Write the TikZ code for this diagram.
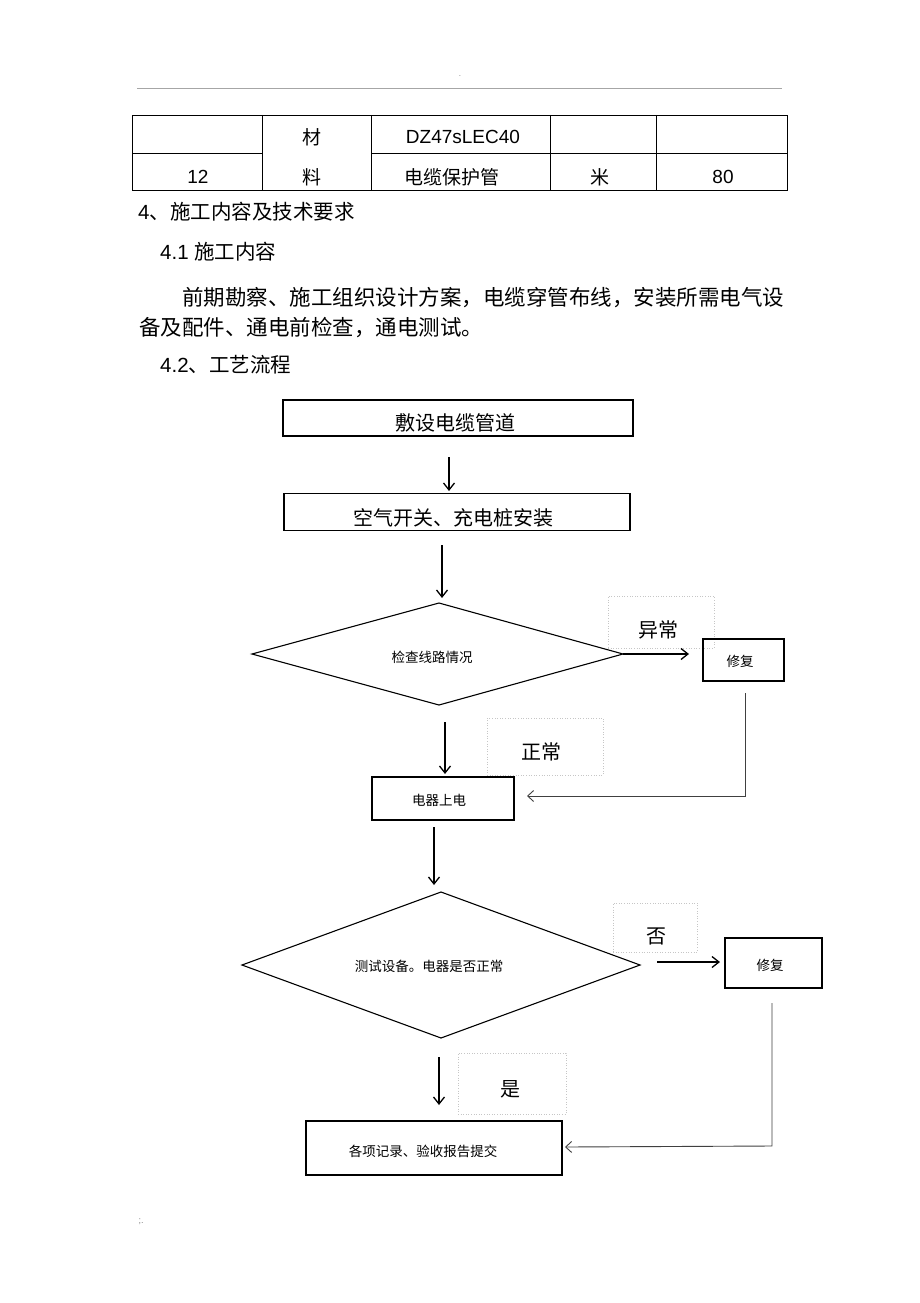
\documentclass[tikz,border=0pt]{standalone}
\usepackage{fontspec}
\setmainfont{Liberation Sans}
\newfontfamily\cjk{Noto Sans CJK SC}
\usetikzlibrary{arrows.meta}
\begin{document}
\begin{tikzpicture}[x=1pt,y=-1pt,
  box/.style={draw,line width=1.1pt,inner sep=0pt,anchor=center},
  lbl/.style={draw=gray!45,dotted,line width=0.6pt,inner sep=0pt,anchor=center},
  arr/.style={line width=1.3pt,-{Straight Barb[length=7pt,width=11pt]}},
  back/.style={line width=0.9pt,draw=black!75,-{Straight Barb[length=6pt,width=11pt]}},
  tline/.style={line width=0.9pt},
  tt/.style={inner sep=0pt,anchor=center,font=\fontsize{19}{22}\selectfont},
  big/.style={inner sep=0pt,font=\cjk\fontsize{20}{24}\selectfont},
  small/.style={inner sep=0pt,font=\cjk\fontsize{13.5}{16}\selectfont},
  para/.style={inner sep=0pt,anchor=west}
]
\useasboundingbox[fill=white] (0,0) rectangle (920,1303);

% header
\node[inner sep=0pt,text=gray,font=\fontsize{8}{8}\selectfont] (dot) at (460,76) {.};
\coordinate (hl) at (137,88);
\coordinate (hr) at (782,88);
\draw[gray!70,line width=0.8pt] (hl) -- (hr);

% table
\coordinate (t1) at (132,115);
\coordinate (t2) at (787,190);
\draw[tline] (t1) rectangle (t2);
\foreach \x in {262,371,550,656} \draw[tline] (\x,115) -- (\x,190);
\draw[tline] (132,153) -- (262,153);
\draw[tline] (371,153) -- (787,153);
\node[tt,font=\cjk\fontsize{19}{22}\selectfont] (c1) at (312,137) {材};
\node[tt,font=\cjk\fontsize{19}{22}\selectfont] (c2) at (312,177) {料};
\node[tt] (c3) at (463,137) {DZ47sLEC40};
\node[tt] (c4) at (198,177) {12};
\node[tt,font=\cjk\fontsize{19}{22}\selectfont] (c5) at (452,177) {电缆保护管};
\node[tt,font=\cjk\fontsize{19}{22}\selectfont] (c6) at (600,177) {米};
\node[tt] (c7) at (723,177) {80};

% headings and paragraph
\node[para,font=\fontsize{20.5}{24}\selectfont] (h4) at (138,212) {4{\cjk 、施工内容及技术要求}};
\node[para,font=\fontsize{20.5}{24}\selectfont] (h41) at (160,252) {4.1 {\cjk 施工内容}};
\node[para,font=\cjk\fontsize{21.5}{26}\selectfont] (p1) at (182,298) {前期勘察、施工组织设计方案，电缆穿管布线，安装所需电气设};
\node[para,font=\cjk\fontsize{21.5}{26}\selectfont] (p2) at (139,328) {备及配件、通电前检查，通电测试。};
\node[para,font=\fontsize{20.5}{24}\selectfont] (h42) at (160,365) {4.2{\cjk 、工艺流程}};

% flowchart boxes
\node[box,minimum width=350pt,minimum height=36pt] (b1) at (458,418) {};
\node[big] (b1t) at (455,423) {敷设电缆管道};
\node[box,minimum width=346pt,minimum height=37pt] (b2) at (457,512) {};
\node[big] (b2t) at (453,518) {空气开关、充电桩安装};

% diamond 1
\coordinate (d1w) at (252,654);
\coordinate (d1n) at (439,603);
\coordinate (d1e) at (623,654);
\coordinate (d1s) at (439,705);
\draw[line width=1.1pt,line join=miter] (d1w) -- (d1n) -- (d1e) -- (d1s) -- cycle;
\node[small] (d1t) at (432,657) {检查线路情况};

\node[lbl,minimum width=106pt,minimum height=52pt] (l1) at (661,622) {};
\node[big] (l1t) at (658,630) {异常};
\node[box,minimum width=81pt,minimum height=42pt] (r1) at (743.5,660) {};
\node[small] (r1t) at (740,661) {修复};
\node[lbl,minimum width=116pt,minimum height=57pt] (l2) at (545,746.5) {};
\node[big] (l2t) at (541,752) {正常};
\node[box,minimum width=142pt,minimum height=43pt] (e1) at (443,798.5) {};
\node[small] (e1t) at (439,800) {电器上电};

% diamond 2
\coordinate (d2w) at (242,965);
\coordinate (d2n) at (441,892);
\coordinate (d2e) at (640,965);
\coordinate (d2s) at (441,1038);
\draw[line width=1.1pt,line join=miter] (d2w) -- (d2n) -- (d2e) -- (d2s) -- cycle;
\node[small] (d2t) at (429,966) {测试设备。电器是否正常};

\node[lbl,minimum width=84pt,minimum height=49pt] (l3) at (655,927.5) {};
\node[big] (l3t) at (656,936) {否};
\node[box,minimum width=97pt,minimum height=50pt] (r2) at (773.5,963) {};
\node[small] (r2t) at (770,965) {修复};
\node[lbl,minimum width=108pt,minimum height=61pt] (l4) at (512,1083.5) {};
\node[big] (l4t) at (510,1089) {是};
\node[box,minimum width=256pt,minimum height=54pt] (e2) at (434,1148) {};
\node[small] (e2t) at (423,1151) {各项记录、验收报告提交};

% arrows
\coordinate (a1s) at (449,457); \coordinate (a1e) at (449,491);
\coordinate (a2s) at (442,545); \coordinate (a2e) at (442,598);
\coordinate (a3e) at (689,654);
\coordinate (a4s) at (445,722); \coordinate (a4e) at (445,774);
\coordinate (a5s) at (434,827); \coordinate (a5e) at (434,885);
\coordinate (a6s) at (657,962); \coordinate (a6e) at (720,962);
\coordinate (a7s) at (439,1057); \coordinate (a7e) at (439,1105);
\draw[arr] (a1s) -- (a1e);
\draw[arr] (a2s) -- (a2e);
\draw[arr] (d1e) -- (a3e);
\draw[arr] (a4s) -- (a4e);
\draw[arr] (a5s) -- (a5e);
\draw[arr] (a6s) -- (a6e);
\draw[arr] (a7s) -- (a7e);

% feedback lines
\coordinate (f1s) at (745,693); \coordinate (f1c) at (745,796); \coordinate (f1e) at (527,796);
\coordinate (f2s) at (772,1003); \coordinate (f2c) at (772,1146); \coordinate (f2e) at (565,1147);
\draw[back] (f1s) -- (f1c) -- (f1e);
\draw[back] (f2s) -- (f2c) -- (f2e);

% footer
\node[inner sep=0pt,text=gray,font=\fontsize{9}{9}\selectfont] (foot) at (141,1222) {;.};
\end{tikzpicture}
\end{document}
